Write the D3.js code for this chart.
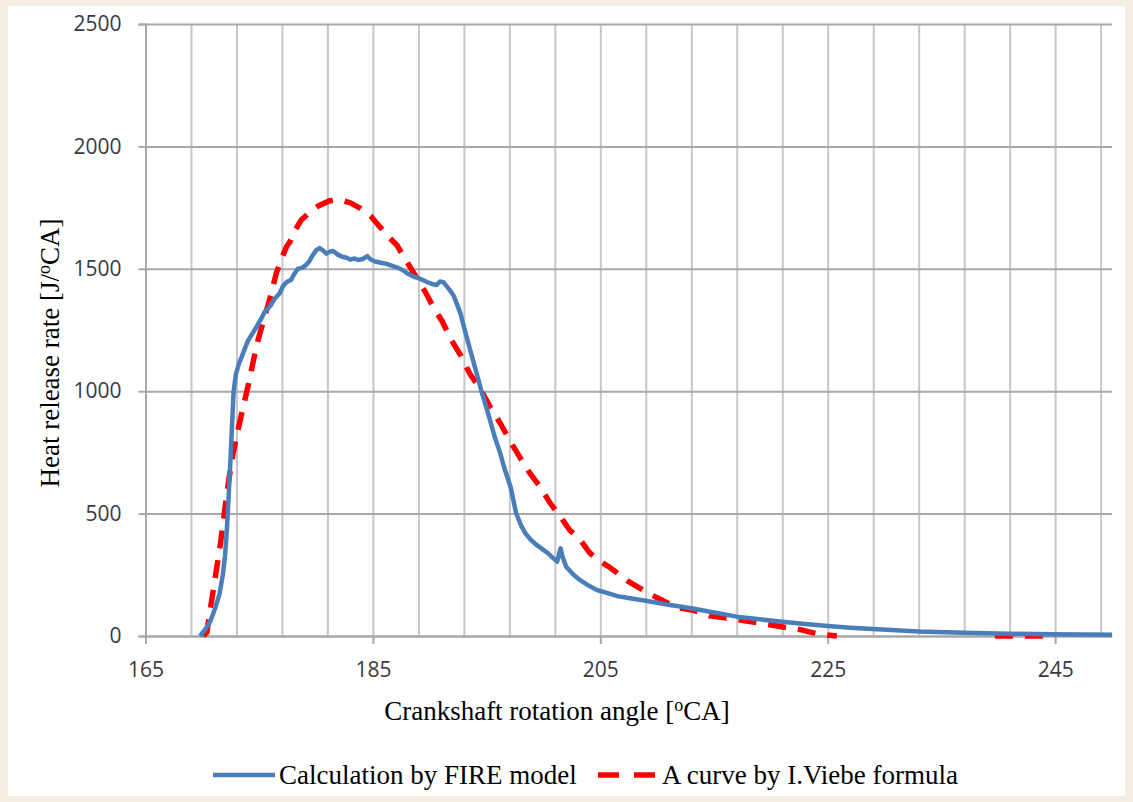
<!DOCTYPE html>
<html lang="en">
<head>
  <meta charset="UTF-8">
  <title>Heat release rate</title>
  <script src="https://d3js.org/d3.v7.min.js"></script>
  <style>
    body { margin: 0; background: #f4ede1; }
    .tick text { font-family: "Open Sans", sans-serif; font-size: 21px; fill: #3a3a3a; }
    .title { font-family: "Liberation Serif", "Times New Roman", serif; font-size: 27px; fill: #000; }
  </style>
</head>
<body>
  <div id="chart"></div>

  <script>
    // crank angle ticks and heat release ticks
    const xTicks = [165, 185, 205, 225, 245];
    const yTicks = [0, 500, 1000, 1500, 2000, 2500];

    // FIRE model (blue)
    const fireAngle = [169.8, 170.3, 170.7, 171.1, 171.5, 171.8, 172.0, 172.15, 172.3, 172.45, 172.6, 172.75, 172.95, 173.2, 173.5, 174.0, 174.6, 175.1, 175.5, 176.0, 176.4, 176.8, 177.1, 177.4, 177.8, 178.1, 178.4, 178.8, 179.1, 179.4, 179.7, 180.0, 180.3, 180.6, 180.9, 181.2, 181.5, 181.9, 182.3, 182.7, 183.0, 183.4, 183.7, 184.1, 184.5, 184.8, 185.2, 185.7, 186.2, 186.7, 187.1, 187.6, 188.0, 188.3, 188.6, 189.0, 189.4, 189.8, 190.2, 190.6, 190.9, 191.2, 191.5, 191.8, 192.1, 192.4, 192.7, 193.0, 193.4, 193.8, 194.2, 194.6, 195.0, 195.3, 195.7, 196.2, 196.6, 197.1, 197.6, 198.0, 198.4, 198.9, 199.4, 199.9, 200.4, 200.8, 201.2, 201.5, 201.7, 202.0, 202.6, 203.2, 204.0, 204.7, 205.5, 206.5, 207.6, 209, 211, 213, 215, 217, 219, 221, 223, 225, 227, 229, 231, 233, 237, 241, 245, 250];
    const fireRate = [0, 30, 60, 110, 170, 250, 330, 430, 560, 700, 850, 1000, 1070, 1110, 1145, 1205, 1250, 1290, 1325, 1350, 1380, 1400, 1430, 1445, 1455, 1480, 1500, 1505, 1515, 1530, 1555, 1575, 1585, 1575, 1562, 1570, 1573, 1558, 1549, 1545, 1538, 1542, 1536, 1540, 1552, 1538, 1530, 1525, 1520, 1512, 1506, 1495, 1482, 1475, 1468, 1462, 1454, 1445, 1438, 1434, 1448, 1445, 1428, 1410, 1390, 1355, 1318, 1264, 1195, 1127, 1060, 991, 930, 882, 815, 746, 680, 610, 501, 455, 420, 392, 372, 355, 338, 320, 304, 358, 320, 283, 252, 229, 205, 188, 177, 163, 154, 144, 128, 113, 96, 79, 68, 58, 49, 41, 34, 29, 23, 18, 13, 9, 7, 5];

    // I.Viebe formula (red dashed), null = gap
    const viebeAngle = [170.1, 170.4, 170.7, 171.0, 171.3, 171.6, 171.9, 172.3, 172.7, 173.2, 173.6, 174.0, 174.5, 174.9, 175.4, 175.8, 176.1, 176.5, 177.0, 177.4, 177.7, 178.15, 178.7, 179.5, 180.2, 181.2, 182.1, 183.0, 183.9, 184.8, 185.6, 186.5, 187.1, 187.8, 188.6, 189.6, 190.3, 191.1, 191.9, 192.7, 193.5, 194.4, 195.3, 196.2, 197.1, 197.9, 198.8, 199.7, 200.6, 201.5, 202.3, 203.2, 204.1, 205.0, 205.85, 206.7, 207.5, 208.5, 209.4, 210.4, 211.7, 213.2, 214.6, 216.4, 218, 219.5, 221.2, 222.7, 224.2, 225.8, 232, 239.7, 245];
    const viebeRate = [0, 15, 110, 200, 290, 380, 490, 630, 746, 855, 937, 1018, 1127, 1209, 1291, 1355, 1406, 1482, 1545, 1590, 1610, 1658, 1699, 1733, 1757, 1778, 1781, 1770, 1747, 1716, 1672, 1625, 1597, 1543, 1482, 1406, 1345, 1285, 1209, 1148, 1073, 1012, 937, 869, 794, 732, 665, 610, 542, 487, 433, 395, 338, 304, 280, 250, 222, 195, 170, 147, 117, 105, 82, 72, 60, 49, 36, 25, 7, 0, null, 0, 0];

    const width = 1133;
    const height = 802;

    const svg = d3.select("#chart")
      .append("svg")
      .attr("width", width)
      .attr("height", height);

    svg.append("rect")
      .attr("x", 8).attr("y", 6)
      .attr("width", 1117).attr("height", 790)
      .attr("fill", "#fff");

    const x = d3.scaleLinear().domain([165, 250]).range([145.5, 1112]);
    const y = d3.scaleLinear().domain([0, 2500]).range([636, 24]);

    // vertical grid every 4 degrees
    svg.append("g")
      .attr("transform", "translate(0,636)")
      .call(d3.axisBottom(x).tickValues(d3.range(169, 250, 4)).tickSize(-612).tickFormat(""))
      .call(g => g.select(".domain").remove())
      .call(g => g.selectAll("line").attr("stroke", "#c6c6c6").attr("stroke-width", 2));

    // horizontal grid + y labels
    svg.append("g")
      .attr("transform", "translate(145.5,0)")
      .call(d3.axisLeft(y).tickValues(yTicks).tickSize(7).tickPadding(17).tickFormat(d3.format("d")))
      .call(g => g.select(".domain").attr("stroke", "#a8a8a8").attr("stroke-width", 2))
      .call(g => g.selectAll(".tick line").attr("stroke", "#a8a8a8").attr("stroke-width", 2))
      .call(g => g.selectAll(".tick").append("line")
        .attr("x1", 0).attr("x2", 966.5)
        .attr("stroke", "#a8a8a8").attr("stroke-width", 2));

    // x axis with labelled ticks
    svg.append("g")
      .attr("transform", "translate(0,636)")
      .call(d3.axisBottom(x).tickValues(xTicks).tickSize(8).tickPadding(18).tickSizeOuter(0).tickFormat(d3.format("d")))
      .call(g => g.select(".domain").attr("stroke", "#a8a8a8").attr("stroke-width", 2))
      .call(g => g.selectAll(".tick line").attr("stroke", "#a8a8a8").attr("stroke-width", 2));

    const fireData = fireAngle.map((a, i) => ({ a, v: fireRate[i] }));
    const viebeData = viebeAngle.map((a, i) => ({ a, v: viebeRate[i] }));

    const line = d3.line()
      .defined(d => d.v !== null)
      .x(d => x(d.a))
      .y(d => y(d.v));

    svg.append("path")
      .datum(viebeData)
      .attr("fill", "none")
      .attr("stroke", "#ff0000")
      .attr("stroke-width", 5.5)
      .attr("stroke-dasharray", "18,12")
      .attr("d", line);

    svg.append("path")
      .datum(fireData)
      .attr("fill", "none")
      .attr("stroke", "#4a7ebb")
      .attr("stroke-width", 4.5)
      .attr("stroke-linejoin", "round")
      .attr("d", line);

    // axis titles
    svg.append("text")
      .attr("class", "title")
      .attr("x", 557)
      .attr("y", 720)
      .attr("text-anchor", "middle")
      .html('Crankshaft rotation angle [<tspan font-size="18" dy="-9">o</tspan><tspan dy="9">CA]</tspan>');

    svg.append("text")
      .attr("class", "title")
      .attr("transform", "translate(59,353) rotate(-90)")
      .attr("text-anchor", "middle")
      .html('Heat release rate [J/<tspan font-size="18" dy="-9">o</tspan><tspan dy="9">CA]</tspan>');

    // legend
    const legend = svg.append("g");
    legend.append("line")
      .attr("x1", 213).attr("x2", 275).attr("y1", 775).attr("y2", 775)
      .attr("stroke", "#4a7ebb").attr("stroke-width", 4.5);
    legend.append("text")
      .attr("class", "title")
      .attr("x", 279).attr("y", 784)
      .text("Calculation by FIRE model");
    legend.append("line")
      .attr("x1", 598).attr("x2", 656).attr("y1", 775).attr("y2", 775)
      .attr("stroke", "#ff0000").attr("stroke-width", 5.5)
      .attr("stroke-dasharray", "21,15");
    legend.append("text")
      .attr("class", "title")
      .attr("x", 662).attr("y", 784)
      .text("A curve by I.Viebe formula");
  </script>
</body>
</html>
